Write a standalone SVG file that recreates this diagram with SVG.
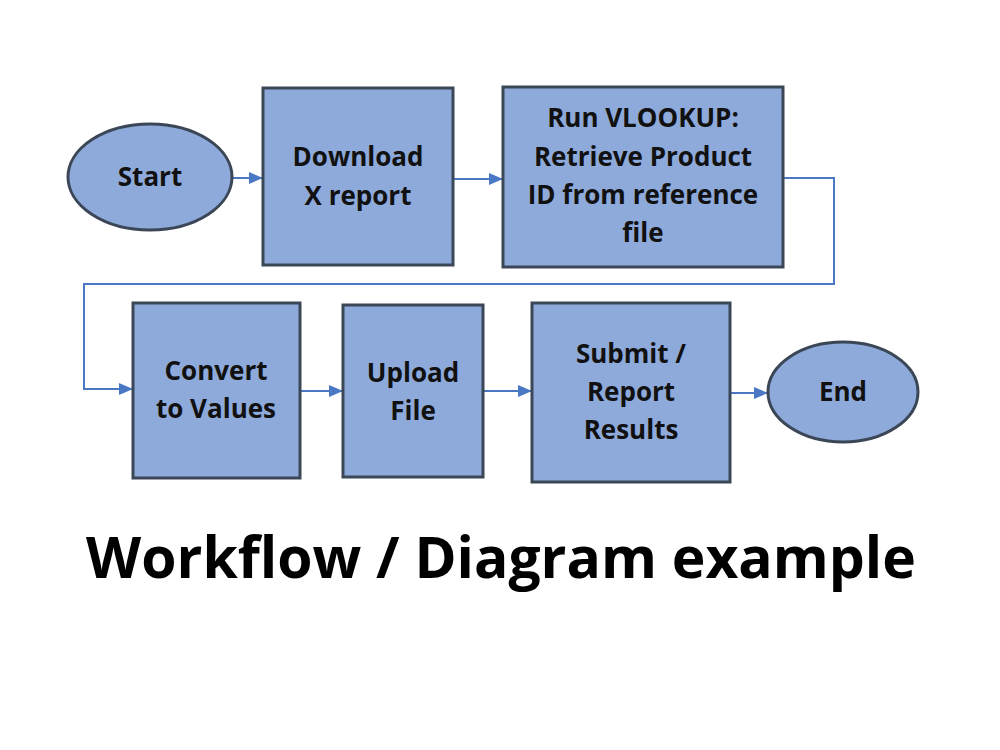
<svg xmlns="http://www.w3.org/2000/svg" width="1000" height="750" viewBox="0 0 1000 750">
<style>
.box{fill:#8eaadb;stroke:#3b4656;stroke-width:3}
.lbl{font-family:"Open Sans","Noto Sans",sans-serif;font-weight:bold;font-size:26px;fill:#111;text-anchor:middle;dominant-baseline:central}
.con{fill:none;stroke:#4a78c4;stroke-width:2}
.title{font-family:"Open Sans","Noto Sans",sans-serif;font-weight:bold;font-size:57px;fill:#000;text-anchor:middle}
</style>
<defs>
<marker id="arr" viewBox="0 0 14 12" refX="14" refY="6" markerWidth="14" markerHeight="12" markerUnits="userSpaceOnUse" orient="auto">
<path d="M0,0 L14,6 L0,12 z" fill="#4a78c4"/>
</marker>
</defs>
<rect width="1000" height="750" fill="#fff"/>
<g id="connectors">
<path class="con" d="M232,178 H263" marker-end="url(#arr)"/>
<path class="con" d="M453,179 H503" marker-end="url(#arr)"/>
<path class="con" d="M783,178 H834 V284 H84 V389 H133" marker-end="url(#arr)"/>
<path class="con" d="M300,391 H343" marker-end="url(#arr)"/>
<path class="con" d="M483,391 H532" marker-end="url(#arr)"/>
<path class="con" d="M730,393 H768" marker-end="url(#arr)"/>
</g>
<g id="start">
<ellipse class="box" cx="150" cy="177" rx="82" ry="53"/>
<text class="lbl" x="150" y="176">Start</text>
</g>
<g id="download">
<rect class="box" x="263" y="88" width="190" height="177"/>
<text class="lbl" x="358" y="156">Download</text>
<text class="lbl" x="358" y="195">X report</text>
</g>
<g id="vlookup">
<rect class="box" x="503" y="87" width="280" height="180"/>
<text class="lbl" x="643" y="117">Run VLOOKUP:</text>
<text class="lbl" x="643" y="156">Retrieve Product</text>
<text class="lbl" x="643" y="194">ID from reference</text>
<text class="lbl" x="643" y="232">file</text>
</g>
<g id="convert">
<rect class="box" x="133" y="303" width="167" height="175"/>
<text class="lbl" x="216" y="370">Convert</text>
<text class="lbl" x="216" y="408">to Values</text>
</g>
<g id="upload">
<rect class="box" x="343" y="305" width="140" height="172"/>
<text class="lbl" x="413" y="372">Upload</text>
<text class="lbl" x="413" y="410">File</text>
</g>
<g id="submit">
<rect class="box" x="532" y="303" width="198" height="179"/>
<text class="lbl" x="631" y="353">Submit /</text>
<text class="lbl" x="631" y="391">Report</text>
<text class="lbl" x="631" y="429">Results</text>
</g>
<g id="end">
<ellipse class="box" cx="843" cy="392" rx="75" ry="50"/>
<text class="lbl" x="843" y="391">End</text>
</g>
<text class="title" x="501" y="578">Workflow / Diagram example</text>
</svg>
